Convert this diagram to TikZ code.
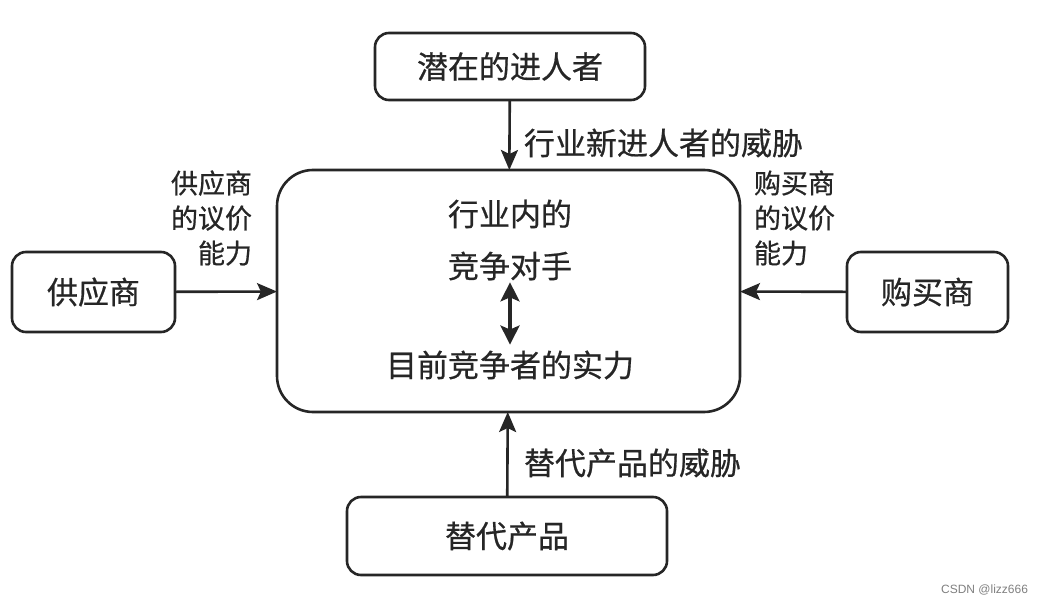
\documentclass[tikz,border=0pt]{standalone}
\usepackage{fontspec}
\newfontfamily\cjk[FakeBold=0.6]{Noto Sans CJK SC}
\newfontfamily\wm{Liberation Sans}
\usetikzlibrary{arrows.meta}
\begin{document}
\begin{tikzpicture}[x=1pt,y=-1pt,
  every node/.style={inner sep=0pt, outer sep=0pt},
  box/.style={draw=black!85, line width=2.6pt, rounded corners=14pt, font=\cjk\fontsize{31}{36}\selectfont, text=black!85},
  lbl/.style={font=\cjk\fontsize{31}{36}\selectfont, text=black!85},
  side/.style={font=\cjk\fontsize{27}{35}\selectfont, text=black!85},
  ctr/.style={font=\cjk\fontsize{31}{36}\selectfont, text=black!85},
  arr/.style={-{Stealth[length=20pt,width=17pt,inset=4pt]}, line width=2.6pt, draw=black!85},
  darr/.style={{Stealth[length=19pt,width=19pt,inset=4pt]}-{Stealth[length=19pt,width=19pt,inset=4pt]}, line width=3.5pt, draw=black!85}
]
\useasboundingbox (0,0) rectangle (1040,604);
\fill[white] (0,0) rectangle (1040,604);

\node[box, minimum width=270pt, minimum height=67pt] (entrant) at (510,66.5) {潜在的进人者};
\node[box, minimum width=463pt, minimum height=242pt, rounded corners=36pt] (rivalry) at (508.5,291) {};
\node[box, minimum width=163pt, minimum height=80pt] (supplier) at (93.5,292) {供应商};
\node[box, minimum width=161pt, minimum height=80pt] (buyer) at (927.5,292) {购买商};
\node[box, minimum width=320pt, minimum height=78pt] (subst) at (507,536) {替代产品};

\node[ctr] (c1) at (510,214) {行业内的};
\node[ctr] (c2) at (510,266) {竞争对手};
\node[ctr] (c3) at (510,365) {目前竞争者的实力};
\draw[darr] ([yshift=-2pt]c2.south) -- ([yshift=6pt]c3.north);

\draw[arr] (entrant) -- (rivalry);
\draw[arr] (supplier) -- (rivalry);
\draw[arr] (buyer) -- (rivalry);
\draw[arr] (subst) -- (rivalry);

\node[lbl, anchor=west] (ltop) at (524,143) {行业新进人者的威胁};
\node[lbl, anchor=west] (lbot) at (524,463) {替代产品的威胁};
\node[side, anchor=east, align=right] (lleft) at (252,218) {供应商\\的议价\\能力};
\node[side, anchor=west, align=left] (lright) at (754,218) {购买商\\的议价\\能力};

\node[font=\wm\fontsize{12}{14}\selectfont, text=black!50, anchor=east] (wm) at (1028,590) {CSDN @lizz666};
\end{tikzpicture}
\end{document}
